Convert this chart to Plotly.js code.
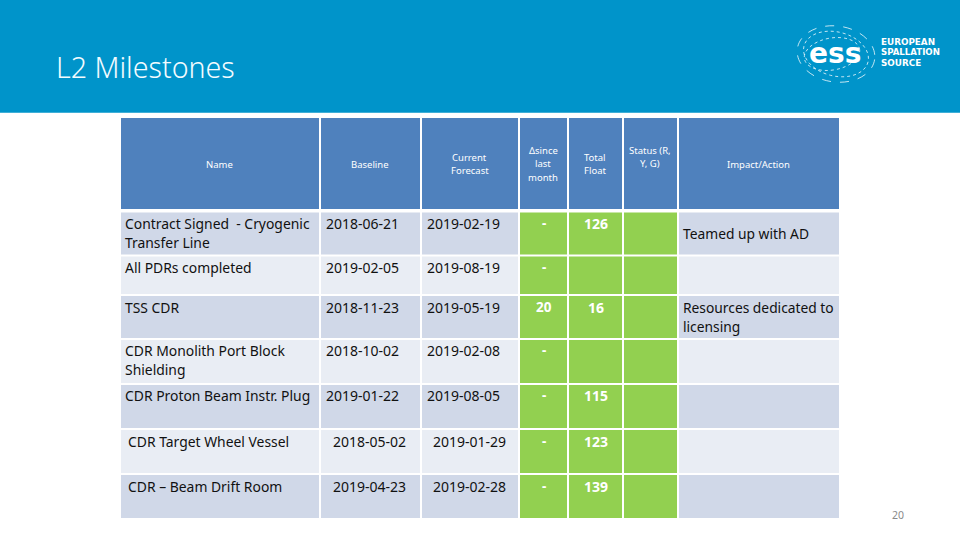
<!DOCTYPE html>
<html>
<head>
<meta charset="utf-8">
<script src="https://cdn.plot.ly/plotly-3.0.1.min.js"></script>
<style>html,body{margin:0;padding:0;background:#fff}#c{width:960px;height:540px}</style>
</head>
<body>
<div id="c"></div>
<script>
// ---- table content ----
const headers  = ["Name", "Baseline", "Current<br>Forecast", "Δsince<br>last<br>month", "Total<br>Float", "Status (R,<br>Y, G)", "Impact/Action"];
const names    = ["Contract Signed  - Cryogenic<br>Transfer Line", "All PDRs completed", "TSS CDR", "CDR Monolith Port Block<br>Shielding", "CDR Proton Beam Instr. Plug", "CDR Target Wheel Vessel", "CDR – Beam Drift Room"];
const baseline = ["2018-06-21", "2019-02-05", "2018-11-23", "2018-10-02", "2019-01-22", "2018-05-02", "2019-04-23"];
const forecast = ["2019-02-19", "2019-08-19", "2019-05-19", "2019-02-08", "2019-08-05", "2019-01-29", "2019-02-28"];
const deltaMonth = ["-", "-", "20", "-", "-", "-", "-"];
const totalFloat = ["126", "", "16", "", "115", "123", "139"];
const impact   = ["Teamed up with AD", "", "Resources dedicated to<br>licensing", "", "", "", ""];
const titleText = "L2 Milestones";
const pageNumber = "20";

// ---- layout constants (pixels) ----
const colEdges = [[121,319],[321,420],[422,518],[520,567],[569,622],[624,677],[679,839]];
const rowEdges = [[118,209],[212.5,254.5],[256.5,294],[296,338],[340,383],[385,428],[430,473],[475,518]];
const rowLineY = [223.3,267.3,307.3,350.3,395.3,441.3,486.3];
const headY = [164,164,157,150.5,157,150,164];
const BLUE="#4F81BD", DARK="#D0D8E8", LIGHT="#E9EDF4", GREEN="#92D050", INK="#111111";
const BODY="Noto Sans";

function rowColor(c,r){
  if(r===0) return BLUE;
  if(c>=3 && c<=5) return GREEN;
  return r%2===1 ? DARK : LIGHT;
}
const traces = colEdges.map((e,c)=>({
  type:"bar", orientation:"h",
  base: rowEdges.map(()=>e[0]),
  x: rowEdges.map(()=>e[1]-e[0]),
  y: rowEdges.map(r=>(r[0]+r[1])/2),
  width: rowEdges.map(r=>r[1]-r[0]),
  marker:{color: rowEdges.map((_,r)=>rowColor(c,r)), line:{width:0}},
  hoverinfo:"skip", showlegend:false
}));

const ann=[];
function put(text,x,y,anchor,size,color,opts){
  if(!text) return;
  const o=opts||{};
  const step=o.step||19;
  text.split("<br>").forEach((line,i)=>{
    ann.push({text:line,x,y:y+i*step,xref:"x",yref:"y",xanchor:anchor,yanchor:"middle",align:anchor,
      showarrow:false,borderpad:0,font:{family:o.family||BODY,size,color,weight:o.weight||400}});
  });
}
headers.forEach((h,c)=>put(h,(colEdges[c][0]+colEdges[c][1])/2-0.5,headY[c],"center",9.5,"#FFFFFF",{step:13.3}));
rowLineY.forEach((y,r)=>{
  const shifted=r>=5;
  put(names[r],shifted?126.5:123.5,y,"left",13.9,INK);
  put(baseline[r],shifted?331.5:324.5,y,"left",14,INK);
  put(forecast[r],shifted?431.5:425.5,y,"left",14,INK);
  put(deltaMonth[r],543.5,y,"center",13.5,"#FFFFFF",{weight:700});
  put(totalFloat[r],596,y,"center",14,"#FFFFFF",{weight:700});
});
put(impact[0],681.5,233.5,"left",13.8,INK);
put(impact[2],681.5,307.3,"left",13.8,INK);
put(titleText,55,66.5,"left",28.6,"#F2FBFF",{weight:300,family:"Noto Sans"});
put(pageNumber,898,515,"center",10.5,"#8A8A8A");
// logo lettering
put("ess",835,53,"center",28,"#FFFFFF",{family:"DejaVu Sans",weight:700});
put("EUROPEAN",880,41.5,"left",8.8,"#FFFFFF",{family:"DejaVu Sans",weight:700});
put("SPALLATION",880,52,"left",8.6,"#FFFFFF",{family:"DejaVu Sans",weight:700});
put("SOURCE",880,62.5,"left",8.8,"#FFFFFF",{family:"DejaVu Sans",weight:700});

function ellipse(cx,cy,rx,ry,deg){
  const k=0.5523,t=deg*Math.PI/180,co=Math.cos(t),si=Math.sin(t);
  const P=(a,b)=>{const X=cx+a*rx*co-b*ry*si,Y=cy+a*rx*si+b*ry*co;return X.toFixed(2)+","+Y.toFixed(2);};
  return "M"+P(1,0)+" C"+P(1,k)+" "+P(k,1)+" "+P(0,1)+" C"+P(-k,1)+" "+P(-1,k)+" "+P(-1,0)+
         " C"+P(-1,-k)+" "+P(-k,-1)+" "+P(0,-1)+" C"+P(k,-1)+" "+P(1,-k)+" "+P(1,0)+" Z";
}
const shapes=[
  {type:"rect",xref:"paper",yref:"y",x0:0,x1:1,y0:0,y1:112.7,fillcolor:"#0094CA",line:{width:0},layer:"below"}
];
[[836,54,39,28,8,"dash"],[836,54,33,22,14,"dot"],[832,54,28,16,-10,"dot"]].forEach(e=>{
  shapes.push({type:"path",path:ellipse(e[0],e[1],e[2],e[3],e[4]),line:{color:"rgba(255,255,255,0.85)",width:0.9,dash:e[5]},layer:"above"});
});

Plotly.newPlot("c",traces,{
  width:960,height:540,margin:{l:0,r:0,t:0,b:0},
  paper_bgcolor:"#FFFFFF",plot_bgcolor:"rgba(0,0,0,0)",
  barmode:"overlay",
  xaxis:{range:[0,960],visible:false,fixedrange:true},
  yaxis:{range:[540,0],visible:false,fixedrange:true},
  shapes,annotations:ann
},{displayModeBar:false,staticPlot:true});
</script>
</body>
</html>
